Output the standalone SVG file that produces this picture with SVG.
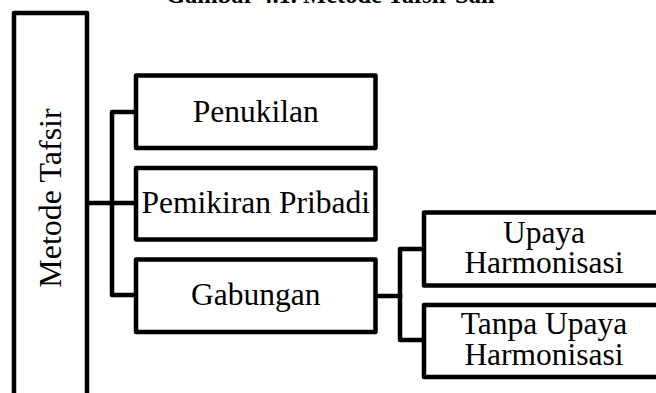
<svg xmlns="http://www.w3.org/2000/svg" width="656" height="393" viewBox="0 0 656 393">
<style>
.box{fill:#fff;stroke:#000;stroke-width:4.5;stroke-linejoin:round}
.ln{fill:none;stroke:#000;stroke-width:4.5;stroke-linejoin:round;stroke-linecap:square}
.t{font-family:"Liberation Serif","Times New Roman",serif;font-size:31.5px;fill:#000;text-anchor:middle}
.title{font-family:"Liberation Serif","Times New Roman",serif;font-size:24.5px;font-weight:bold;fill:#000}
</style>
<rect width="656" height="393" fill="#fff"/>
<text class="title" x="166" y="3">Gambar 4.1. Metode Tafsir Sali</text>
<g id="connectors">
<path class="ln" d="M87 203 H136"/>
<path class="ln" d="M136 112 H112 V295 H136"/>
<path class="ln" d="M375.5 296 H400"/>
<path class="ln" d="M424 249 H400 V340 H424"/>
</g>
<g id="metode-tafsir">
<rect class="box" x="14" y="13" width="73" height="400"/>
<text class="t" transform="translate(61 198) rotate(-90)" x="0" y="0" style="font-size:32px">Metode Tafsir</text>
</g>
<g id="penukilan">
<rect class="box" x="136" y="75.5" width="239.5" height="72.5"/>
<text class="t" x="255.75" y="122">Penukilan</text>
</g>
<g id="pemikiran-pribadi">
<rect class="box" x="136" y="168" width="239.5" height="71.5"/>
<text class="t" x="255.75" y="213">Pemikiran Pribadi</text>
</g>
<g id="gabungan">
<rect class="box" x="136" y="259.5" width="239.5" height="72.5"/>
<text class="t" x="255.75" y="305">Gabungan</text>
</g>
<g id="upaya-harmonisasi">
<rect class="box" x="424" y="212.5" width="260" height="73"/>
<text class="t" x="544" y="243">Upaya</text>
<text class="t" x="544" y="273">Harmonisasi</text>
</g>
<g id="tanpa-upaya-harmonisasi">
<rect class="box" x="424" y="305" width="260" height="72"/>
<text class="t" x="544" y="334">Tanpa Upaya</text>
<text class="t" x="544" y="365">Harmonisasi</text>
</g>
</svg>
